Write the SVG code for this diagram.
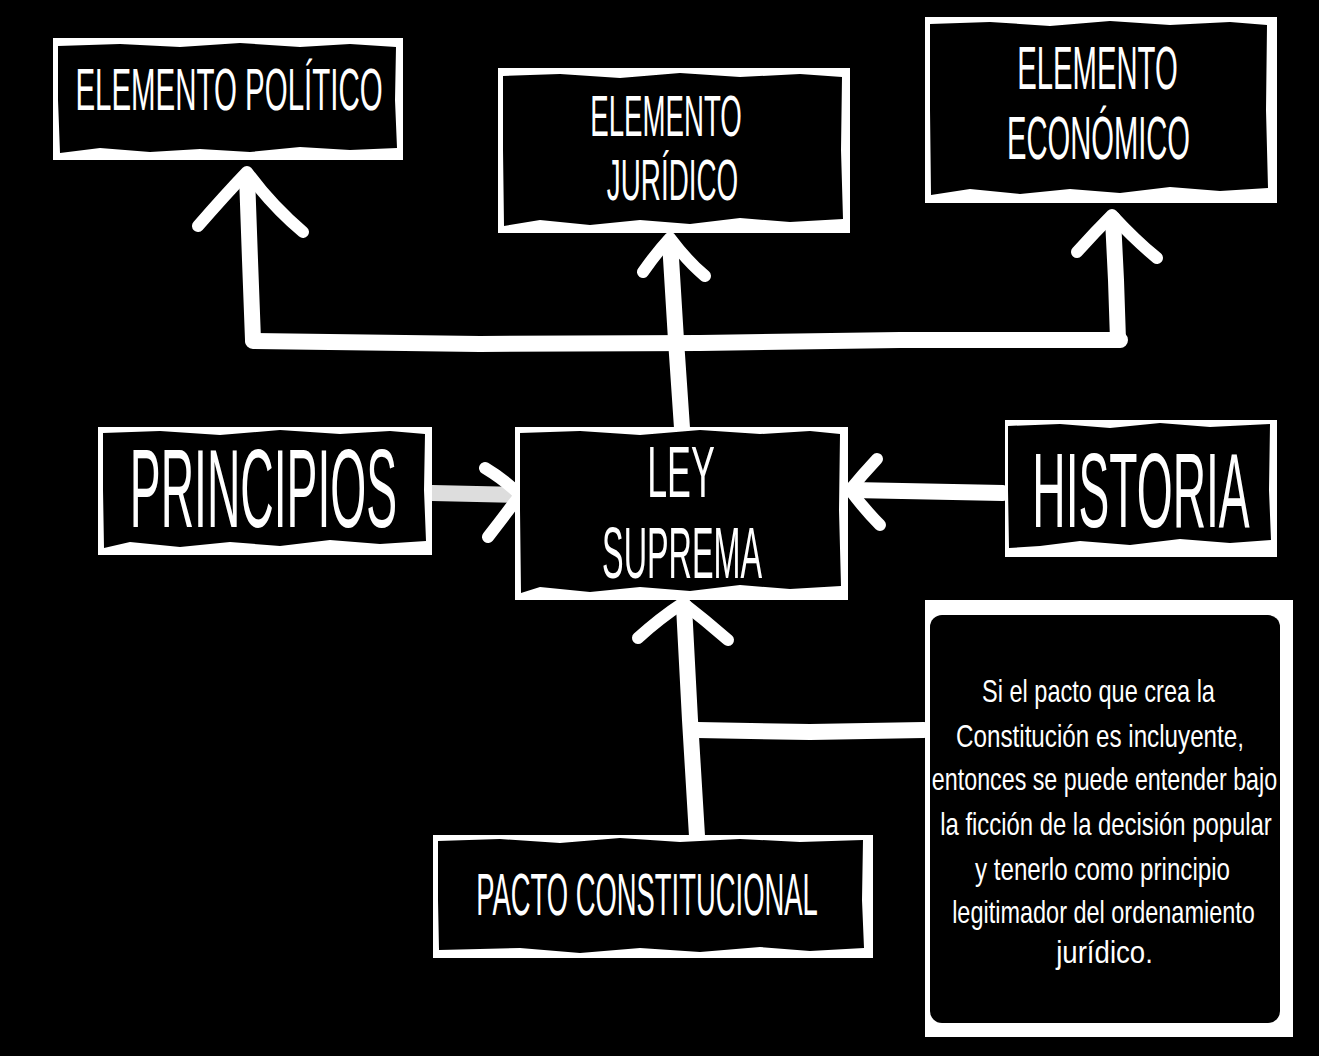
<svg xmlns="http://www.w3.org/2000/svg" width="1319" height="1056" viewBox="0 0 1319 1056">
<style>
.bg{fill:#000}
.outer{fill:#fff}
.inner{fill:#000}
.t{fill:#fff;font-family:"Liberation Sans","DejaVu Sans",sans-serif;font-weight:normal;text-anchor:middle}
.ln{stroke:#fff;stroke-width:16;fill:none;stroke-linecap:round;stroke-linejoin:round}
.hd{stroke:#fff;stroke-width:12;fill:none;stroke-linecap:round;stroke-linejoin:round}
</style>
<rect class="bg" x="0" y="0" width="1319" height="1056"/>
<g id="connectors">
  <path class="ln" d="M253,340 L250,260 L247,176"/>
  <path class="hd" d="M198,226 Q225,195 247,172 Q272,206 303,232"/>
  <path class="ln" d="M253,341 L480,344 L700,343 L900,340 L1120,340"/>
  <path class="ln" d="M682,428 L676,340 L670,242"/>
  <path class="hd" d="M643,272 Q657,252 670,238 Q688,262 705,276"/>
  <path class="ln" d="M1118,340 L1116,280 L1113,219"/>
  <path class="hd" d="M1077,252 Q1095,232 1112,215 Q1135,240 1157,258"/>
  <path class="ln" d="M432,493 L518,495" style="stroke:#ddd"/>
  <path class="hd" d="M485,468 Q505,480 520,495 Q505,515 488,537"/>
  <path class="ln" d="M1003,493 L852,490"/>
  <path class="hd" d="M877,459 Q862,475 850,490 Q865,510 880,525"/>
  <path class="ln" d="M697,836 L690,720 L684,606"/>
  <path class="hd" d="M638,638 Q660,618 683,603 Q705,620 728,640"/>
  <path class="ln" d="M697,730 L810,732 L924,730"/>
</g>
<g id="elemento-politico">
  <rect class="outer" x="53" y="38" width="350" height="122"/>
  <path class="inner" d="M58,46 L120,44 L180,47 L240,43 L300,47 L350,44 L396,47 L395,100 L397,148 L350,150 L300,147 L250,152 L200,149 L150,152 L100,148 L60,153 L58,100 Z"/>
  <text class="t" transform="translate(229,110) scale(0.502,1)" font-size="58.7">ELEMENTO POLÍTICO</text>
</g>
<g id="elemento-juridico">
  <rect class="outer" x="498" y="68" width="352" height="165"/>
  <path class="inner" d="M503,76 L560,74 L620,78 L680,73 L740,77 L800,74 L842,77 L841,150 L843,219 L790,222 L740,218 L690,224 L640,220 L590,225 L540,220 L504,226 L503,150 Z"/>
  <text class="t" transform="translate(666,136) scale(0.485,1)" font-size="57">ELEMENTO</text>
  <text class="t" transform="translate(672.5,200) scale(0.488,1)" font-size="57">JURÍDICO</text>
</g>
<g id="elemento-economico">
  <rect class="outer" x="925" y="17" width="352" height="186"/>
  <path class="inner" d="M930,24 L990,22 L1050,26 L1110,21 L1170,25 L1230,22 L1267,25 L1266,110 L1268,188 L1220,191 L1170,187 L1120,193 L1070,189 L1020,194 L970,189 L931,195 L930,110 Z"/>
  <text class="t" transform="translate(1097.5,89) scale(0.48,1)" font-size="61">ELEMENTO</text>
  <text class="t" transform="translate(1098.5,159) scale(0.478,1)" font-size="61">ECONÓMICO</text>
</g>
<g id="principios">
  <rect class="outer" x="98" y="427" width="334" height="128"/>
  <path class="inner" d="M103,433 L160,431 L220,435 L280,430 L340,434 L390,431 L425,434 L424,490 L426,541 L380,544 L330,540 L280,546 L230,542 L180,547 L130,542 L104,548 L103,490 Z"/>
  <text class="t" transform="translate(263.5,527) scale(0.413,1)" font-size="112">PRINCIPIOS</text>
</g>
<g id="ley-suprema">
  <rect class="outer" x="515" y="427" width="333" height="173"/>
  <path class="inner" d="M520,433 L580,431 L640,435 L700,430 L760,434 L810,431 L840,434 L839,510 L841,586 L790,589 L740,585 L690,591 L640,587 L590,592 L540,587 L521,593 L520,510 Z"/>
  <text class="t" transform="translate(681,497) scale(0.49,1)" font-size="73">LEY</text>
  <text class="t" transform="translate(682,578) scale(0.443,1)" font-size="73">SUPREMA</text>
</g>
<g id="historia">
  <rect class="outer" x="1005" y="420" width="272" height="137"/>
  <path class="inner" d="M1008,426 L1060,424 L1110,428 L1160,423 L1210,427 L1270,424 L1269,490 L1271,540 L1230,543 L1180,539 L1130,545 L1080,541 L1040,546 L1009,548 L1008,490 Z"/>
  <text class="t" transform="translate(1141,527) scale(0.44,1)" font-size="105">HISTORIA</text>
</g>
<g id="nota">
  <rect class="outer" x="925" y="600" width="368" height="437"/>
  <rect class="inner" x="930" y="615" width="350" height="408" rx="12"/>
  <text class="t" font-size="32" transform="translate(1098.5,702) scale(0.736,1)">Si el pacto que crea la</text>
  <text class="t" font-size="32" transform="translate(1100,747) scale(0.757,1)">Constitución es incluyente,</text>
  <text class="t" font-size="32" transform="translate(1104.5,790) scale(0.727,1)">entonces se puede entender bajo</text>
  <text class="t" font-size="32" transform="translate(1106,835) scale(0.746,1)">la ficción de la decisión popular</text>
  <text class="t" font-size="32" transform="translate(1102.5,880) scale(0.755,1)">y tenerlo como principio</text>
  <text class="t" font-size="32" transform="translate(1103.5,923) scale(0.734,1)">legitimador del ordenamiento</text>
  <text class="t" font-size="32" transform="translate(1104.5,963) scale(0.863,1)">jurídico.</text>
</g>
<g id="pacto-constitucional">
  <rect class="outer" x="433" y="835" width="440" height="123"/>
  <path class="inner" d="M438,841 L500,839 L560,843 L620,838 L680,842 L740,839 L800,842 L863,840 L862,900 L864,948 L810,951 L760,947 L700,952 L640,948 L580,953 L520,948 L439,950 L438,900 Z"/>
  <text class="t" transform="translate(647,915) scale(0.457,1)" font-size="60">PACTO CONSTITUCIONAL</text>
</g>
</svg>
